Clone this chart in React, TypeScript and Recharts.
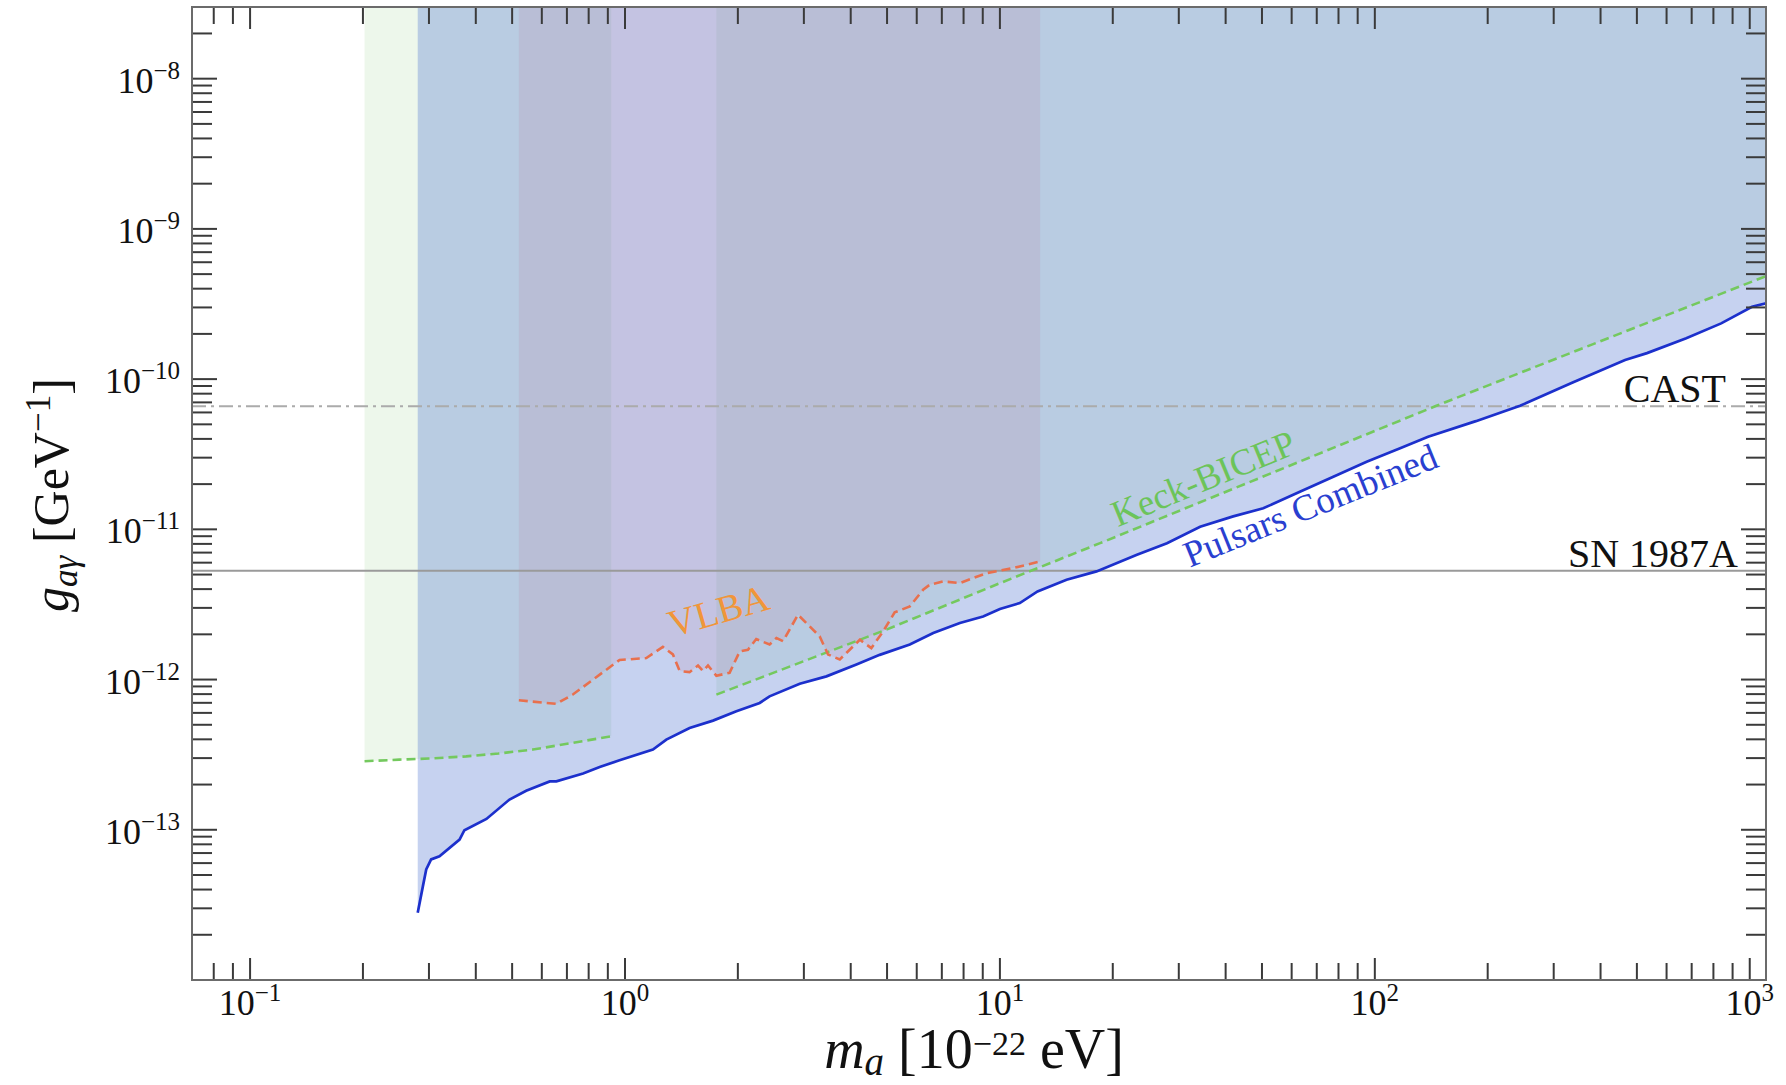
import React from "react";
import { ComposedChart, Area, Line, XAxis, YAxis, ReferenceLine } from "recharts";

// figure geometry (px)
const W = 1786;
const H = 1085;
const PLOT_LEFT = 192;
const PLOT_RIGHT = 1766;
const PLOT_TOP = 7;
const PLOT_BOTTOM = 980;

const X_DOMAIN: [number, number] = [0.07, 1105];
const Y_DOMAIN: [number, number] = [1e-14, 3e-8];

// Pulsars combined (m_a in 1e-22 eV, g in GeV^-1)
const pulsarMass = [
  0.28, 0.289, 0.295, 0.304, 0.32, 0.362, 0.373, 0.427, 0.492, 0.545, 0.63, 0.656, 0.773, 0.856,
  0.967, 1.187, 1.289, 1.487, 1.717, 1.982, 2.287, 2.43, 2.925, 3.446, 4.143, 4.78, 5.75, 6.64,
  7.82, 9.02, 10.0, 11.3, 12.6, 15.06, 18.1, 23.2, 27.9, 34.2, 41.9, 50.4, 63.1, 77.5, 95.1,
  116.8, 138.7, 186, 244, 337, 465, 532, 677, 839, 1014, 1105,
];
const pulsarCoupling = [
  2.8e-14, 4.2e-14, 5.45e-14, 6.35e-14, 6.67e-14, 8.6e-14, 9.94e-14, 1.18e-13, 1.59e-13, 1.82e-13,
  2.1e-13, 2.1e-13, 2.37e-13, 2.62e-13, 2.9e-13, 3.42e-13, 3.98e-13, 4.76e-13, 5.33e-13, 6.15e-13,
  6.99e-13, 7.73e-13, 9.39e-13, 1.05e-12, 1.26e-12, 1.46e-12, 1.71e-12, 2.04e-12, 2.38e-12,
  2.63e-12, 2.95e-12, 3.23e-12, 3.86e-12, 4.62e-12, 5.25e-12, 6.77e-12, 8.09e-12, 1.04e-11,
  1.22e-11, 1.38e-11, 1.78e-11, 2.24e-11, 2.82e-11, 3.46e-11, 4.14e-11, 5.25e-11, 6.65e-11,
  9.5e-11, 1.34e-10, 1.49e-10, 1.87e-10, 2.35e-10, 3.03e-10, 3.2e-10,
];

// Keck-BICEP, low-mass piece and high-mass piece
const keckLowMass = [0.202, 0.25, 0.3, 0.377, 0.46, 0.568, 0.726, 0.919];
const keckLowCoupling = [2.86e-13, 2.93e-13, 2.98e-13, 3.08e-13, 3.22e-13, 3.42e-13, 3.79e-13, 4.19e-13];
const keckHighMass = [1.753, 4.98, 10, 18.5, 146, 1105];
const keckHighCoupling = [7.94e-13, 2.15e-12, 4.38e-12, 8.09e-12, 6.65e-11, 4.85e-10];

// VLBA
const vlbaMass = [
  0.521, 0.656, 0.726, 0.967, 1.14, 1.262, 1.342, 1.399, 1.487, 1.566, 1.614, 1.665, 1.753, 1.901,
  2.023, 2.128, 2.239, 2.43, 2.535, 2.64, 2.893, 3.305, 3.48, 3.74, 4.23, 4.54, 4.88, 5.24, 5.75,
  6.24, 6.5, 7.05, 7.82, 9.21, 10.85, 12.8,
];
const vlbaCoupling = [
  7.28e-13, 6.89e-13, 7.95e-13, 1.35e-12, 1.39e-12, 1.65e-12, 1.47e-12, 1.14e-12, 1.12e-12,
  1.24e-12, 1.14e-12, 1.24e-12, 1.06e-12, 1.11e-12, 1.54e-12, 1.58e-12, 1.86e-12, 1.71e-12,
  1.89e-12, 1.8e-12, 2.7e-12, 1.94e-12, 1.47e-12, 1.36e-12, 1.84e-12, 1.62e-12, 2.09e-12,
  2.8e-12, 3.07e-12, 3.96e-12, 4.28e-12, 4.5e-12, 4.39e-12, 5.11e-12, 5.52e-12, 6.11e-12,
];

const CAST_LIMIT = 6.6e-11;
const SN1987A_LIMIT = 5.3e-12;

const toRows = (ms: number[], gs: number[]) => ms.map((m, i) => ({ m, g: gs[i] }));
const pulsarData = toRows(pulsarMass, pulsarCoupling);
const keckLowData = toRows(keckLowMass, keckLowCoupling);
const keckHighData = toRows(keckHighMass, keckHighCoupling);
const vlbaData = toRows(vlbaMass, vlbaCoupling);

// excluded region = from the bound up to the top of the plot
const band = (d: any) => [d.g, Y_DOMAIN[1]];

// log ticks (decades + minor)
const logTicks = ([lo, hi]: [number, number]) => {
  const out: number[] = [];
  for (let e = Math.floor(Math.log10(lo)); e <= Math.ceil(Math.log10(hi)); e++) {
    for (let k = 1; k <= 9; k++) {
      const v = Number((k * Math.pow(10, e)).toPrecision(4));
      if (v > lo * 1.001 && v < hi * 0.999) out.push(v);
    }
  }
  return out;
};
const xTicks = logTicks(X_DOMAIN);
const yTicks = logTicks(Y_DOMAIN);

const FONT = "'Liberation Serif', 'DejaVu Serif', serif";
const TICK_COLOR = "#3a3a3a";

const isDecade = (v: number) => Math.abs(Math.log10(v) - Math.round(Math.log10(v))) < 1e-9;
const expLabel = (v: number) => String(Math.round(Math.log10(v))).replace("-", "\u2212");

function XTick(props: any) {
  const { x, payload } = props;
  const major = isDecade(payload.value);
  const len = major ? 22 : 17;
  return (
    <g>
      <line x1={x} x2={x} y1={PLOT_BOTTOM} y2={PLOT_BOTTOM - len} stroke={TICK_COLOR} strokeWidth={2} />
      <line x1={x} x2={x} y1={PLOT_TOP} y2={PLOT_TOP + len} stroke={TICK_COLOR} strokeWidth={2} />
      {major && (
        <text x={x} y={PLOT_BOTTOM + 35} textAnchor="middle" fontFamily={FONT} fontSize={36} fill="#111">
          10
          <tspan fontSize={25} dy={-14}>
            {expLabel(payload.value)}
          </tspan>
        </text>
      )}
    </g>
  );
}

function YTick(props: any) {
  const { y, payload } = props;
  const major = isDecade(payload.value);
  const len = major ? 25 : 20;
  return (
    <g>
      <line x1={PLOT_LEFT} x2={PLOT_LEFT + len} y1={y} y2={y} stroke={TICK_COLOR} strokeWidth={2} />
      <line x1={PLOT_RIGHT} x2={PLOT_RIGHT - len} y1={y} y2={y} stroke={TICK_COLOR} strokeWidth={2} />
      {major && (
        <text x={PLOT_LEFT - 12} y={y + 14} textAnchor="end" fontFamily={FONT} fontSize={36} fill="#111">
          10
          <tspan fontSize={25} dy={-14}>
            {expLabel(payload.value)}
          </tspan>
        </text>
      )}
    </g>
  );
}

export default function App() {
  return (
    <div style={{ position: "absolute", left: 0, top: 0, width: W, height: H, background: "#fff" }}>
      <ComposedChart
        width={W}
        height={H}
        margin={{ top: PLOT_TOP, right: W - PLOT_RIGHT, bottom: 0, left: 0 }}
      >
        <XAxis
          dataKey="m"
          type="number"
          scale="log"
          domain={X_DOMAIN}
          allowDataOverflow
          ticks={xTicks}
          interval={0}
          tick={<XTick />}
          tickLine={false}
          axisLine={false}
          height={H - PLOT_BOTTOM}
        />
        <YAxis
          type="number"
          scale="log"
          domain={Y_DOMAIN}
          allowDataOverflow
          ticks={yTicks}
          interval={0}
          tick={<YTick />}
          tickLine={false}
          axisLine={false}
          width={PLOT_LEFT}
        />

        {/* shaded exclusion regions */}
        <Area data={keckLowData} dataKey={band} type="linear" stroke="none" fill="#5cb84a" fillOpacity={0.11} isAnimationActive={false} />
        <Area data={keckHighData} dataKey={band} type="linear" stroke="none" fill="#5cb84a" fillOpacity={0.11} isAnimationActive={false} />
        <Area data={pulsarData} dataKey={band} type="linear" stroke="none" fill="#4169cd" fillOpacity={0.3} isAnimationActive={false} />
        <Area data={vlbaData} dataKey={band} type="linear" stroke="none" fill="#b97593" fillOpacity={0.15} isAnimationActive={false} />

        <ReferenceLine y={CAST_LIMIT} stroke="#ababab" strokeWidth={2} strokeDasharray="14 5 3 5" />
        <ReferenceLine y={SN1987A_LIMIT} stroke="#9a9a9a" strokeWidth={2} />

        <Line data={keckLowData} dataKey="g" type="linear" stroke="#74c95e" strokeWidth={2.6} strokeDasharray="9 5" dot={false} isAnimationActive={false} />
        <Line data={keckHighData} dataKey="g" type="linear" stroke="#74c95e" strokeWidth={2.6} strokeDasharray="9 5" dot={false} isAnimationActive={false} />
        <Line data={vlbaData} dataKey="g" type="linear" stroke="#e8704e" strokeWidth={2.6} strokeDasharray="9 5" dot={false} isAnimationActive={false} />
        <Line data={pulsarData} dataKey="g" type="linear" stroke="#1c30cc" strokeWidth={2.7} dot={false} isAnimationActive={false} />
      </ComposedChart>

      <svg
        width={W}
        height={H}
        style={{ position: "absolute", left: 0, top: 0, pointerEvents: "none" }}
        fontFamily={FONT}
      >
        <rect
          x={PLOT_LEFT}
          y={PLOT_TOP}
          width={PLOT_RIGHT - PLOT_LEFT}
          height={PLOT_BOTTOM - PLOT_TOP}
          fill="none"
          stroke="#6b6b6b"
          strokeWidth={2}
        />

        <text x={1726} y={402} textAnchor="end" fontSize={40} fill="#111">CAST</text>
        <text x={1738} y={567} textAnchor="end" fontSize={40} fill="#111">SN 1987A</text>

        <text x={1208} y={490} textAnchor="middle" fontSize={37} fill="#6cc45a" transform="rotate(-22.5 1208 490)">
          Keck-BICEP
        </text>
        <text x={1315} y={517} textAnchor="middle" fontSize={37} fill="#2a3fd0" transform="rotate(-22 1315 517)">
          Pulsars Combined
        </text>
        <text x={722} y={623} textAnchor="middle" fontSize={38} fill="#f0963a" transform="rotate(-16 722 623)">
          VLBA
        </text>

        {/* axis titles */}
        <text x={974} y={1068} textAnchor="middle" fontSize={56} fill="#111">
          <tspan fontStyle="italic">m</tspan>
          <tspan fontStyle="italic" fontSize={39} dy={7}>a</tspan>
          <tspan dy={-7}> [10</tspan>
          <tspan fontSize={34} dy={-13}>{"\u221222"}</tspan>
          <tspan dy={13}> eV]</tspan>
        </text>
        <text x={68} y={495} textAnchor="middle" fontSize={50} fill="#111" transform="rotate(-90 68 495)">
          <tspan fontStyle="italic">g</tspan>
          <tspan fontStyle="italic" fontSize={35} dy={9}>{"a\u03b3"}</tspan>
          <tspan dy={-9}> [GeV</tspan>
          <tspan fontSize={35} dy={-18}>{"\u22121"}</tspan>
          <tspan dy={18}>]</tspan>
        </text>
      </svg>
    </div>
  );
}
